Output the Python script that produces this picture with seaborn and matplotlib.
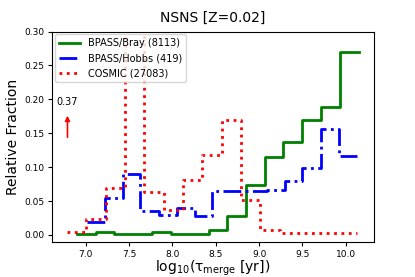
import matplotlib
matplotlib.use("Agg")
import matplotlib.pyplot as plt
import numpy as np
import pandas as pd
import seaborn as sns

# bin edges (log10 of merger time) and relative fraction per bin
bray_edges = [6.90, 7.12, 7.33, 7.55, 7.77, 7.98, 8.20, 8.42,
              8.63, 8.85, 9.07, 9.28, 9.50, 9.72, 9.93, 10.15]
bray_frac = [0.002, 0.004, 0.002, 0.002, 0.004, 0.002, 0.002, 0.007,
             0.028, 0.073, 0.115, 0.137, 0.169, 0.188, 0.270]

hobbs_edges = [7.01, 7.22, 7.43, 7.63, 7.84, 8.05, 8.26, 8.46,
               8.67, 8.88, 9.09, 9.30, 9.50, 9.71, 9.92, 10.13]
hobbs_frac = [0.019, 0.054, 0.090, 0.036, 0.030, 0.039, 0.028, 0.065,
              0.065, 0.065, 0.067, 0.080, 0.098, 0.156, 0.117]

cosmic_edges = [6.78, 7.00, 7.23, 7.45, 7.67, 7.90, 8.12, 8.34,
                8.57, 8.79, 9.01, 9.24, 9.46, 9.68, 9.91, 10.13]
cosmic_frac = [0.004, 0.024, 0.069, 0.370, 0.063, 0.037, 0.081, 0.118,
               0.169, 0.051, 0.007, 0.003, 0.003, 0.003, 0.003]

series = [
    ("BPASS/Bray (8113)", bray_edges, bray_frac, "green", "-"),
    ("BPASS/Hobbs (419)", hobbs_edges, hobbs_frac, "blue", "-."),
    ("COSMIC (27083)", cosmic_edges, cosmic_frac, "red", ":"),
]

fig, ax = plt.subplots(figsize=(4.15, 2.77), dpi=100)
fig.subplots_adjust(left=0.125, right=0.9, bottom=0.125, top=0.886)

for label, edges, frac, color, ls in series:
    # repeat the last value so the final step reaches the last edge
    df = pd.DataFrame({"x": edges, "y": list(frac) + [frac[-1]]})
    sns.lineplot(data=df, x="x", y="y", ax=ax, color=color, linestyle=ls,
                 linewidth=2, drawstyle="steps-post", label=label,
                 sort=False, estimator=None)

# the COSMIC peak is off the top of the axes
peak = max(cosmic_frac)
ax.annotate("", xy=(6.79, 0.180), xytext=(6.79, 0.140),
            arrowprops=dict(arrowstyle="-|>", color="red", lw=1.2,
                            mutation_scale=7))
ax.text(6.79, 0.188, "{:.2f}".format(peak), fontsize=7,
        ha="center", va="bottom")

ax.set_xlim(6.61, 10.32)
ax.set_ylim(-0.011, 0.30)
ax.set_xticks(np.arange(7.0, 10.01, 0.5))
ax.set_yticks(np.arange(0.0, 0.301, 0.05))
ax.tick_params(labelsize=6.5, length=3, pad=2.5)

ax.set_title("NSNS [Z=0.02]", fontsize=10, pad=7)
ax.set_ylabel("Relative Fraction", fontsize=10, labelpad=3)
ax.set_xlabel(r"log$_{10}$(τ$_{\rm merge}$ [yr])", fontsize=10, labelpad=0)

ax.legend(loc="upper left", fontsize=7, handlelength=2.2, borderaxespad=0.3)

plt.savefig("out.png", dpi=100)
